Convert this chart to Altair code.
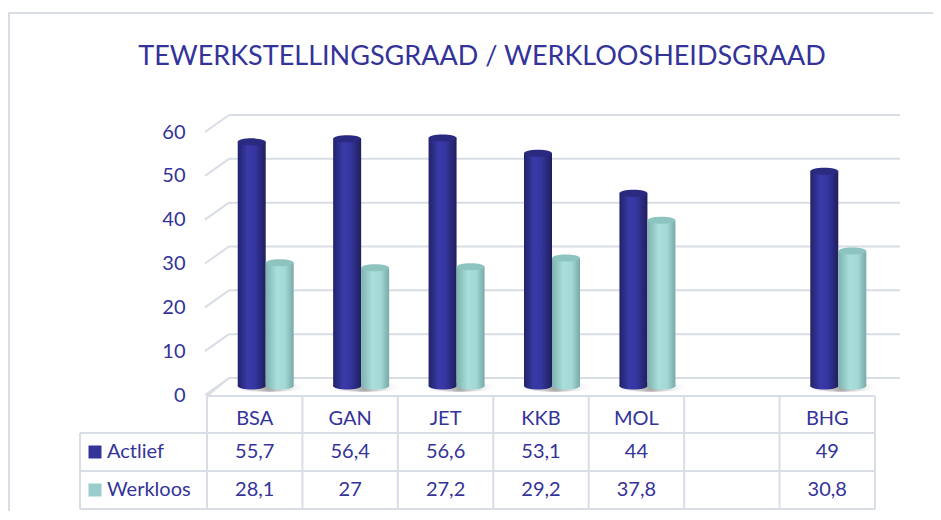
import altair as alt
import pandas as pd

# ---------------- data ----------------
categories = ["BSA", "GAN", "JET", "KKB", "MOL", " ", "BHG"]
bar_cats = ["BSA", "GAN", "JET", "KKB", "MOL", "BHG"]
actlief = [55.7, 56.4, 56.6, 53.1, 44, 49]
werkloos = [28.1, 27, 27.2, 29.2, 37.8, 30.8]
series = ["Actlief", "Werkloos"]
y_ticks = [0, 10, 20, 30, 40, 50, 60]
title_text = "TEWERKSTELLINGSGRAAD / WERKLOOSHEIDSGRAAD"

# ---------------- style ----------------
FONT = "Lato"
TXT = "#333399"
BLUE = "#333399"
TEAL = "#99cccc"
GRID = "#d9dde6"
W, H = 668, 263
PAD = {"left": 199, "top": 115, "right": 58, "bottom": 125}

df = pd.DataFrame({"cat": bar_cats, "Actlief": actlief, "Werkloos": werkloos})
cat_df = pd.DataFrame({"cat": categories})
tick_df = pd.DataFrame({"v": y_ticks})
ser_df = pd.DataFrame({"s": series})
one = pd.DataFrame({"d": [0]})
title_df = pd.DataFrame({"t": [title_text]})

xs = alt.Scale(domain=categories, paddingInner=0, paddingOuter=0)
ys = alt.Scale(domain=[0, 60], nice=False, zero=True)
X = alt.X("cat:N", scale=xs, axis=None)
Y0 = alt.Y(datum=0, scale=ys, axis=None)

ELL = "M -1 0 A 1 0.25 0 1 0 1 0 A 1 0.25 0 1 0 -1 0 Z"
SHADOW = "M -1 0 A 1 0.12 0 1 0 1 0 A 1 0.12 0 1 0 -1 0 Z"

def lin(stops):
    return alt.LinearGradient(gradient="linear", x1=0, x2=1, y1=0, y2=0,
                              stops=[alt.GradientStop(offset=o, color=c) for o, c in stops])

blue_grad = lin([(0, "#22226a"), (0.35, "#3a3aa8"), (0.6, "#3636a2"), (1, "#1f1f5e")])
teal_grad = lin([(0, "#7db2ae"), (0.4, "#a8dedb"), (0.7, "#a2d8d5"), (1, "#78aaa7")])

def hline(y, x0, x1):
    return alt.Chart(one).mark_rule(color=GRID, strokeWidth=2).encode(
        x=alt.value(x0), x2=alt.value(x1), y=alt.value(y))

# title
title = alt.Chart(title_df).mark_text(font=FONT, fontSize=27, color=TXT, baseline="middle").encode(
    x=alt.value(275), y=alt.value(-66), text="t:N")

# outer frame
frame = alt.Chart(one).mark_rect(fill=None, stroke=GRID, strokeWidth=2).encode(
    x=alt.value(-198), x2=alt.value(745), y=alt.value(-110), y2=alt.value(420))

# back-wall gridlines with y axis (labels on the front plane)
grid = alt.Chart(tick_df).mark_rule(color=GRID, strokeWidth=2, yOffset=-8).encode(
    x=alt.value(22), x2=alt.value(693),
    y=alt.Y("v:Q", scale=ys, axis=alt.Axis(
        values=y_ticks, domain=False, ticks=False, grid=False, labelOffset=9,
        labelPadding=22, labelFontSize=20, labelColor=TXT, labelFont=FONT, title=None)))

side = alt.Chart(tick_df).mark_rule(color=GRID, strokeWidth=2, yOffset=9, y2Offset=-8).encode(
    x=alt.value(-2), x2=alt.value(22),
    y=alt.Y("v:Q", scale=ys, axis=None), y2=alt.Y2("v:Q"))

# shadows under each pair of bars
shadow = alt.Chart(df).mark_point(
    shape=SHADOW, size=78 ** 2, filled=True, opacity=1, xOffset=14, yOffset=1,
    fill=alt.RadialGradient(gradient="radial", x1=0.5, y1=0.5, r1=0, x2=0.5, y2=0.5, r2=0.5,
                            stops=[alt.GradientStop(offset=0, color="rgba(80,80,80,0.55)"),
                                   alt.GradientStop(offset=1, color="rgba(255,255,255,0)")])
).encode(x=X, y=Y0)

def cylinder(field, grad, cap, off):
    base = alt.Chart(df)
    bottom = base.mark_point(shape=ELL, size=784, filled=True, opacity=1, fill=grad,
                             strokeWidth=0, xOffset=off).encode(x=X, y=Y0)
    body = base.mark_bar(width=28, xOffset=off, fill=grad, stroke=None).encode(
        x=X, y=alt.Y(f"{field}:Q", scale=ys, axis=None))
    top = base.mark_point(shape=ELL, size=784, filled=True, opacity=1, fill=cap,
                          strokeWidth=0, xOffset=off).encode(
        x=X, y=alt.Y(f"{field}:Q", scale=ys, axis=None))
    return [bottom, body, top]

bars_blue = cylinder("Actlief", blue_grad, "#2a2a80", -3)
bars_teal = cylinder("Werkloos", teal_grad, "#8ec4c0", 25)

# ---------------- data table ----------------
vlines = alt.Chart(cat_df).mark_rule(color=GRID, strokeWidth=2).encode(
    x=alt.X("cat:N", scale=xs, axis=None, bandPosition=0),
    y=alt.value(273), y2=alt.value(386))
vright = alt.Chart(one).mark_rule(color=GRID, strokeWidth=2).encode(
    x=alt.value(W), y=alt.value(273), y2=alt.value(386))
vleft = alt.Chart(one).mark_rule(color=GRID, strokeWidth=2).encode(
    x=alt.value(-127), y=alt.value(310), y2=alt.value(386))
floor_diag = alt.Chart(one).mark_rule(color=GRID, strokeWidth=2).encode(
    x=alt.value(0), x2=alt.value(22), y=alt.value(273), y2=alt.value(255))
hlines = [hline(273, 0, W), hline(310, -127, W), hline(348, -127, W), hline(386, -127, W)]

header = alt.Chart(cat_df).mark_text(font=FONT, fontSize=20, color=TXT).encode(
    x=X, y=alt.value(296), text="cat:N")

val_a = alt.Chart(df).transform_calculate(
    t="replace(toString(datum.Actlief), '.', ',')"
).mark_text(font=FONT, fontSize=20, color=TXT).encode(x=X, y=alt.value(329), text="t:N")
val_w = alt.Chart(df).transform_calculate(
    t="replace(toString(datum.Werkloos), '.', ',')"
).mark_text(font=FONT, fontSize=20, color=TXT).encode(x=X, y=alt.value(367), text="t:N")

row_y = alt.Y("s:N", scale=alt.Scale(type="point", domain=series, range=[329, 367], padding=0),
              axis=None)
row_labels = alt.Chart(ser_df).mark_text(font=FONT, fontSize=20, color=TXT, align="left").encode(
    x=alt.value(-100), y=row_y, text="s:N")
legend_sq = alt.Chart(ser_df).mark_square(size=169, opacity=1).encode(
    x=alt.value(-112), y=row_y,
    color=alt.Color("s:N", scale=alt.Scale(domain=series, range=[BLUE, TEAL]), legend=None))

chart = alt.layer(
    frame, title, grid, side, shadow, *bars_blue, *bars_teal,
    vlines, vright, vleft, floor_diag, *hlines,
    header, val_a, val_w, row_labels, legend_sq
).resolve_scale(y="shared").properties(
    width=W, height=H, padding=PAD, autosize=alt.AutoSizeParams(type="none")
).configure(background="white").configure_view(stroke=None, strokeWidth=0)

chart.save("out.html", embed_options={"renderer": "svg", "actions": False})
